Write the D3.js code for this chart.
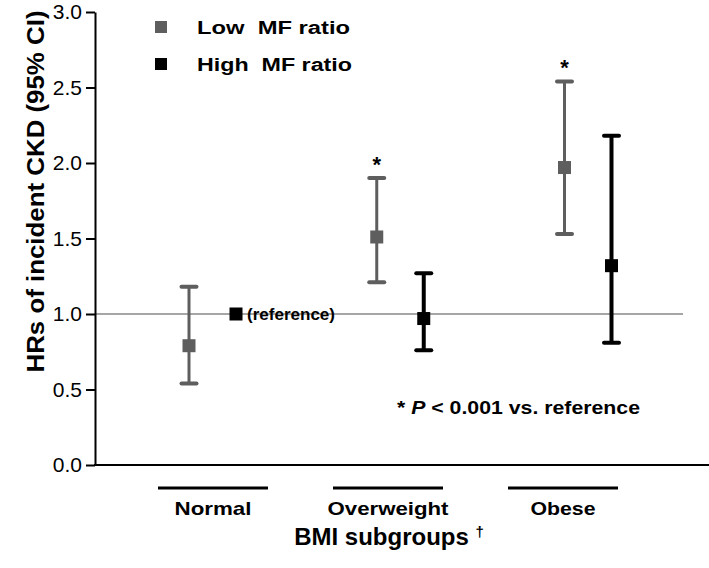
<!DOCTYPE html>
<html>
<head>
<meta charset="utf-8">
<script src="https://cdn.jsdelivr.net/npm/d3@7"></script>
<style>
  html, body { margin: 0; padding: 0; background: #fff; }
  svg { display: block; font-family: "Liberation Sans", Arial, Helvetica, sans-serif; }
</style>
</head>
<body>
<svg id="chart" width="709" height="568"></svg>
<script>
// ---- data ----
const categories = ["Normal", "Overweight", "Obese"];
const seriesNames = ["Low  MF ratio", "High  MF ratio"];
const lowHR  = [0.79, 1.51, 1.97];
const lowLo  = [0.54, 1.21, 1.53];
const lowHi  = [1.18, 1.90, 2.54];
const highHR = [1.00, 0.97, 1.32];
const highLo = [null, 0.76, 0.81];
const highHi = [null, 1.27, 2.18];
const lowSignificant = [false, true, true];
const yTicks = [0, 0.5, 1.0, 1.5, 2.0, 2.5, 3.0];
const referenceHR = 1.0;

const colors = { low: "#5e5e5e", high: "#000000" };

const svg = d3.select("#chart");

// ---- scales ----
const y = d3.scaleLinear().domain([0, 3]).range([465, 12]);
const xGroup = d3.scalePoint().domain(categories).range([212.5, 588]);
const xSeries = d3.scalePoint().domain(["low", "high"]).range([-23.5, 23.5]);
const xLabel = d3.scalePoint().domain(categories).range([213, 563]);
const labelWidths = { "Normal": 77, "Overweight": 121, "Obese": 65 };

// ---- reference line ----
svg.append("line")
  .attr("x1", 95).attr("x2", 683)
  .attr("y1", y(referenceHR)).attr("y2", y(referenceHR))
  .attr("stroke", "#a6a6a6").attr("stroke-width", 2);

// ---- y axis ----
const yAxis = d3.axisLeft(y).tickValues(yTicks).tickFormat(d3.format(".1f"))
  .tickSize(9).tickSizeOuter(0).tickPadding(4);
const gy = svg.append("g").attr("transform", "translate(95,0)").call(yAxis);
gy.select(".domain").attr("stroke", "#000").attr("stroke-width", 2);
gy.selectAll(".tick line").attr("stroke", "#000").attr("stroke-width", 2);
gy.selectAll(".tick text").attr("font-size", 21).attr("fill", "#000")
  .attr("font-family", "Liberation Sans, Arial, sans-serif");

// x baseline
svg.append("line")
  .attr("x1", 94).attr("x2", 709)
  .attr("y1", y(0)).attr("y2", y(0))
  .attr("stroke", "#000").attr("stroke-width", 2);

// ---- y axis title ----
svg.append("text")
  .attr("transform", `translate(44,${(y(3) + y(0)) / 2 - 47}) rotate(-90)`)
  .attr("text-anchor", "middle")
  .attr("font-size", 24).attr("font-weight", "bold")
  .attr("textLength", 362).attr("lengthAdjust", "spacingAndGlyphs")
  .text("HRs of incident CKD (95%  CI)");

// ---- error bars + markers ----
function buildSeries(key, hr, lo, hi) {
  return categories.map((c, i) => ({ key, cat: c, hr: hr[i], lo: lo[i], hi: hi[i] }));
}
const allSeries = [
  buildSeries("low", lowHR, lowLo, lowHi),
  buildSeries("high", highHR, highLo, highHi)
];

allSeries.forEach(series => {
  const key = series[0].key;
  const col = colors[key];
  const sw = key === "low" ? 3 : 4;
  const g = svg.append("g");
  const withCI = series.filter(d => d.lo != null);
  g.selectAll(".v").data(withCI).join("line")
    .attr("x1", d => xGroup(d.cat) + xSeries(key))
    .attr("x2", d => xGroup(d.cat) + xSeries(key))
    .attr("y1", d => y(d.lo)).attr("y2", d => y(d.hi))
    .attr("stroke", col).attr("stroke-width", sw);
  ["lo", "hi"].forEach(end => {
    g.selectAll(".c" + end).data(withCI).join("line")
      .attr("x1", d => xGroup(d.cat) + xSeries(key) - 7.5)
      .attr("x2", d => xGroup(d.cat) + xSeries(key) + 7.5)
      .attr("y1", d => y(d[end])).attr("y2", d => y(d[end]))
      .attr("stroke", col).attr("stroke-width", 4).attr("stroke-linecap", "round");
  });
  g.selectAll("rect").data(series).join("rect")
    .attr("x", d => xGroup(d.cat) + xSeries(key) - 6.5)
    .attr("y", d => y(d.hr) - 6.5)
    .attr("width", 13).attr("height", 13)
    .attr("fill", col);
});

// (reference) label
svg.append("text")
  .attr("x", xGroup(categories[0]) + xSeries("high") + 11)
  .attr("y", y(highHR[0]) + 6)
  .attr("font-size", 16).attr("font-weight", "bold")
  .attr("textLength", 88).attr("lengthAdjust", "spacingAndGlyphs")
  .text("(reference)");

// asterisks
svg.selectAll(".star").data(categories.filter((c, i) => lowSignificant[i])).join("text")
  .attr("x", c => xGroup(c) + xSeries("low"))
  .attr("y", c => y(lowHi[categories.indexOf(c)]) - 6)
  .attr("text-anchor", "middle")
  .attr("font-size", 22).attr("font-weight", "bold")
  .text("*");

// ---- legend ----
const legend = svg.append("g");
seriesNames.forEach((name, i) => {
  const key = i === 0 ? "low" : "high";
  const cy = 27 + i * 37;
  legend.append("rect").attr("x", 155).attr("y", cy - 6).attr("width", 12).attr("height", 12)
    .attr("fill", colors[key]);
  legend.append("text").attr("x", 197).attr("y", cy + 7)
    .attr("font-size", 18).attr("font-weight", "bold")
    .attr("textLength", i === 0 ? 153 : 155).attr("lengthAdjust", "spacingAndGlyphs")
    .style("white-space", "pre")
    .text(name);
});

// ---- category underlines and labels ----
const cats = svg.append("g");
categories.forEach(c => {
  const cx = xLabel(c);
  cats.append("line").attr("x1", cx - 55).attr("x2", cx + 55)
    .attr("y1", 488).attr("y2", 488)
    .attr("stroke", "#000").attr("stroke-width", 3);
  cats.append("text").attr("x", cx).attr("y", 515)
    .attr("text-anchor", "middle")
    .attr("font-size", 19).attr("font-weight", "bold")
    .attr("textLength", labelWidths[c]).attr("lengthAdjust", "spacingAndGlyphs")
    .text(c);
});

// ---- x title ----
const xt = svg.append("text").attr("x", 389).attr("y", 545)
  .attr("text-anchor", "middle")
  .attr("font-size", 24).attr("font-weight", "bold");
xt.append("tspan").text("BMI subgroups ");
xt.append("tspan").attr("font-size", 15).attr("dy", -8).text("†");

// ---- footnote ----
const fn = svg.append("text").attr("x", 397).attr("y", 414)
  .attr("font-size", 19).attr("font-weight", "bold")
  .attr("textLength", 243).attr("lengthAdjust", "spacingAndGlyphs");
fn.append("tspan").text("* ");
fn.append("tspan").attr("font-style", "italic").text("P");
fn.append("tspan").text(" < 0.001 vs. reference");
</script>
</body>
</html>
